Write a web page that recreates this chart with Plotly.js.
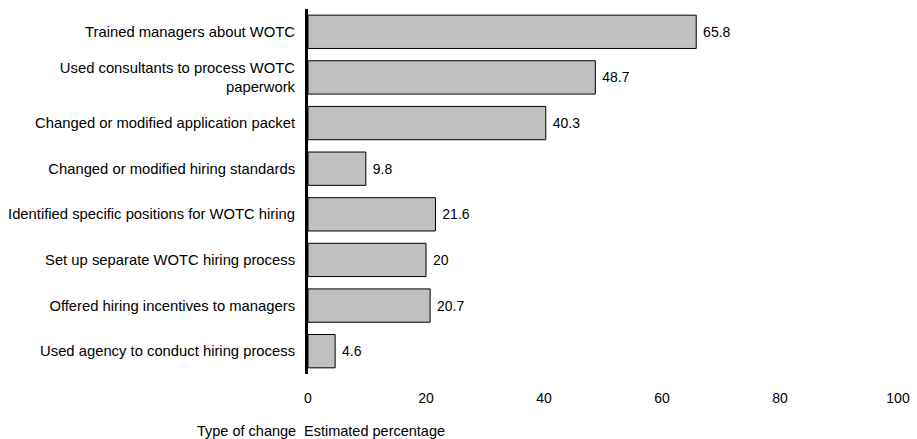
<!DOCTYPE html>
<html>
<head>
<meta charset="utf-8">
<script src="https://cdn.plot.ly/plotly-3.0.1.min.js"></script>
<style>html,body{margin:0;padding:0;background:#fff;}#chart{width:917px;height:439px;}</style>
</head>
<body>
<div id="chart"></div>
<script>
const categories = [
  "Trained managers about WOTC",
  "Used consultants to process WOTC<br>paperwork",
  "Changed or modified application packet",
  "Changed or modified hiring standards",
  "Identified specific positions for WOTC hiring",
  "Set up separate WOTC hiring process",
  "Offered hiring incentives to managers",
  "Used agency to conduct hiring process"
];
const values = [65.8, 48.7, 40.3, 9.8, 21.6, 20, 20.7, 4.6];
const labels = ["65.8", "48.7", "40.3", "9.8", "21.6", "20", "20.7", "4.6"];
const xTicks = [0, 20, 40, 60, 80, 100];

const font = "Liberation Sans, Arial, Helvetica, sans-serif";
const trace = {
  type: "bar",
  orientation: "h",
  y: categories,
  x: values,
  text: labels.map(s => " " + s),
  textposition: "outside",
  textfont: {family: font, size: 14, color: "#000"},
  cliponaxis: false,
  width: 0.73,
  marker: {color: "#c0c0c0", line: {color: "#000", width: 1}},
  hoverinfo: "none"
};
const layout = {
  width: 917, height: 439,
  margin: {l: 308, r: 19, t: 9, b: 65},
  paper_bgcolor: "#fff", plot_bgcolor: "#fff",
  showlegend: false,
  font: {family: font, size: 14, color: "#000"},
  xaxis: {
    range: [0, 100], tickvals: xTicks, ticktext: xTicks.map(String),
    showgrid: false, zeroline: false, showline: false, ticks: "",
    ticklabelstandoff: 14, tickfont: {family: font, size: 14, color: "#000"},
    fixedrange: true
  },
  yaxis: {
    autorange: "reversed", type: "category",
    showgrid: false, zeroline: false, showline: true, linecolor: "#000", linewidth: 3,
    ticks: "", ticklabelstandoff: 7, tickfont: {family: font, size: 14.8, color: "#000"},
    fixedrange: true
  },
  annotations: [
    {xref: "paper", yref: "paper", x: -0.017, y: -0.155, xanchor: "right", yanchor: "middle",
     text: "Type of change", showarrow: false, font: {family: font, size: 14.5, color: "#000"}},
    {xref: "paper", yref: "paper", x: -0.011, y: -0.155, xanchor: "left", yanchor: "middle",
     text: "Estimated percentage", showarrow: false, font: {family: font, size: 14.5, color: "#000"}}
  ]
};
Plotly.newPlot("chart", [trace], layout, {displayModeBar: false, staticPlot: true});
</script>
</body>
</html>
